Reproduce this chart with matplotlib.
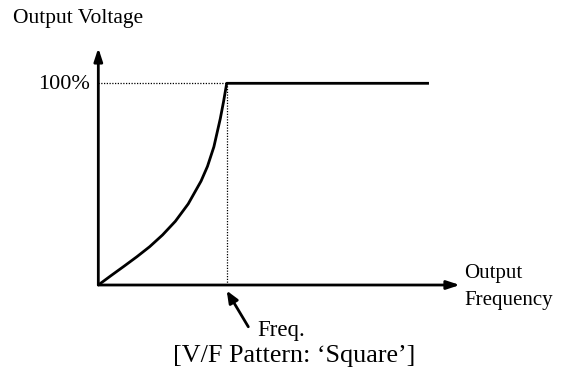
import matplotlib
matplotlib.use('Agg')
import matplotlib.pyplot as plt

plt.rcParams['font.family'] = ['Liberation Serif', 'DejaVu Serif']

# V/F pattern 'Square': frequency normalised to base freq, voltage in %
freq = [0, 0.1, 0.2, 0.3, 0.4, 0.5, 0.6, 0.7, 0.8, 0.85,
        0.9, 0.95, 0.975, 1.0, 2.575]
volt = [0, 4.7, 9.3, 14.0, 19.0, 24.8, 31.6, 40.2, 51.5, 58.8,
        68.5, 82.5, 90.8, 100, 100]
base_freq = 1.0
full_volt = 100
x_axis_end = 2.816
y_axis_end = 117.5

fig = plt.figure(figsize=(5.62, 3.74), dpi=100)
ax = fig.add_axes([0, 0, 1, 1])
ax.set_xlim(-0.7656, 3.611)
ax.set_ylim(-44.12, 141.3)
ax.axis('off')

# axes with arrow heads
arrow_kw = dict(arrowstyle='-|>,head_length=0.55,head_width=0.18',
                lw=2, color='black', shrinkA=0, shrinkB=0, mutation_scale=14)
ax.annotate('', xy=(x_axis_end, 0), xytext=(0, 0), arrowprops=arrow_kw)
ax.annotate('', xy=(0, y_axis_end), xytext=(0, 0), arrowprops=arrow_kw)

# guide lines at base frequency / 100 %
ax.plot([0, base_freq], [full_volt, full_volt], color='black', lw=0.9,
        ls=(0, (1, 1.2)))
ax.plot([base_freq, base_freq], [0, full_volt], color='black', lw=0.9,
        ls=(0, (1, 1.2)))

ax.plot(freq, volt, color='black', lw=2, solid_capstyle='butt',
        solid_joinstyle='round')

# labels
ax.text(-0.667, 129.9, 'Output Voltage', fontsize=15.5, va='baseline')
ax.text(-0.065, 97.2, '100%', fontsize=16, ha='right', va='baseline')
ax.text(2.848, 3.5, 'Output', fontsize=15, va='baseline')
ax.text(2.848, -9.9, 'Frequency', fontsize=15, va='baseline')

ax.annotate('', xy=(base_freq, -2.8), xytext=(1.168, -20.7),
            arrowprops=dict(arrowstyle='-|>,head_length=0.6,head_width=0.25',
                            lw=2, color='black', shrinkA=0, shrinkB=0,
                            mutation_scale=12))
ax.text(1.235, -25.3, 'Freq.', fontsize=16.5, va='baseline')
ax.text(1.523, -38.0, '[V/F Pattern: \u2018Square\u2019]', fontsize=18.8,
        ha='center', va='baseline')

fig.savefig('out.png', dpi=100)
